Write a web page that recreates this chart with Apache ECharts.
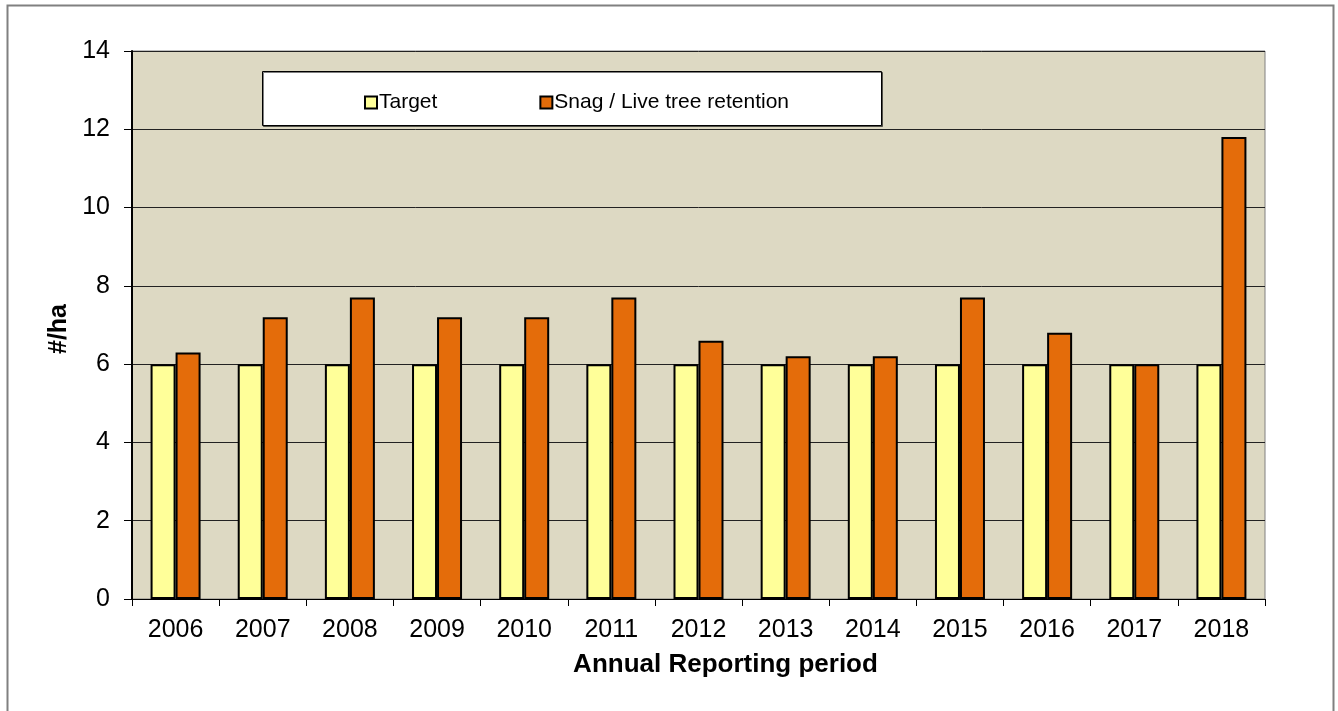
<!DOCTYPE html>
<html>
<head>
<meta charset="utf-8">
<script src="https://cdn.jsdelivr.net/npm/echarts@6/dist/echarts.min.js"></script>
<style>
html, body { margin: 0; padding: 0; background: #fff; }
#main { width: 1338px; height: 711px; }
</style>
</head>
<body>
<div id="main"></div>
<script>
// data
var years = ["2006", "2007", "2008", "2009", "2010", "2011", "2012", "2013", "2014", "2015", "2016", "2017", "2018"];
var target = [6, 6, 6, 6, 6, 6, 6, 6, 6, 6, 6, 6, 6];
var retention = [6.3, 7.2, 7.7, 7.2, 7.2, 7.7, 6.6, 6.2, 6.2, 7.7, 6.8, 6.0, 11.8];
var seriesNames = ["Target", "Snag / Live tree retention"];

var font = "Liberation Sans, Arial, sans-serif";
var chart = echarts.init(document.getElementById("main"));

chart.setOption({
  animation: false,
  backgroundColor: "#fff",
  textStyle: { fontFamily: font },
  graphic: [
    // outer chart border
    {
      type: "rect", z: -1,
      shape: { x: 7.5, y: 5.5, width: 1326, height: 720 },
      style: { fill: "#fff", stroke: "#808080", lineWidth: 2 }
    },
    // legend box
    {
      type: "rect", z: 10,
      shape: { x: 262.5, y: 71.5, width: 619, height: 54 },
      style: { fill: "#fff", stroke: "#000", lineWidth: 1, shadowColor: "rgba(0,0,0,0.5)", shadowOffsetX: 1, shadowOffsetY: 1 }
    }
  ],
  legend: {
    z: 11,
    left: 359,
    top: 87,
    itemWidth: 12,
    itemHeight: 12,
    itemGap: 102,
    icon: "rect",
    textStyle: { fontSize: 21, color: "#000", fontFamily: font, padding: [0, 0, 0, -3] },
    data: seriesNames
  },
  grid: {
    left: 132,
    top: 51,
    width: 1133,
    height: 548,
    show: true,
    backgroundColor: "#DDD9C3",
    borderColor: "#808080",
    borderWidth: 1
  },
  xAxis: {
    type: "category",
    data: years,
    name: "Annual Reporting period",
    nameLocation: "middle",
    nameGap: 53,
    nameTextStyle: { fontSize: 26, fontWeight: "bold", color: "#000", padding: [0, 0, 0, 54] },
    axisLine: { lineStyle: { color: "#000", width: 1 } },
    axisTick: { show: true, length: 7, lineStyle: { color: "#000" } },
    axisLabel: { fontSize: 25, color: "#000", margin: 19 },
    splitLine: { show: false }
  },
  yAxis: {
    type: "value",
    min: 0,
    max: 14,
    interval: 2,
    name: "#/ha",
    nameLocation: "middle",
    nameGap: 52,
    nameRotate: 90,
    nameTextStyle: { fontSize: 25, fontWeight: "bold", color: "#000", padding: [0, 8, 0, 0] },
    axisLine: { show: true, lineStyle: { color: "#000", width: 2 } },
    axisTick: { show: true, length: 8, lineStyle: { color: "#000" } },
    axisLabel: { fontSize: 25, color: "#000", margin: 22 },
    splitLine: { show: true, lineStyle: { color: "#222", width: 1 } }
  },
  series: [
    {
      name: seriesNames[0],
      type: "bar",
      data: target,
      barWidth: 25,
      barGap: "0%",
      itemStyle: { color: "#FFFF99", borderColor: "#000", borderWidth: 2 }
    },
    {
      name: seriesNames[1],
      type: "bar",
      data: retention,
      barWidth: 25,
      barGap: "0%",
      itemStyle: { color: "#E46C0A", borderColor: "#000", borderWidth: 2 }
    }
  ]
});
</script>
</body>
</html>
